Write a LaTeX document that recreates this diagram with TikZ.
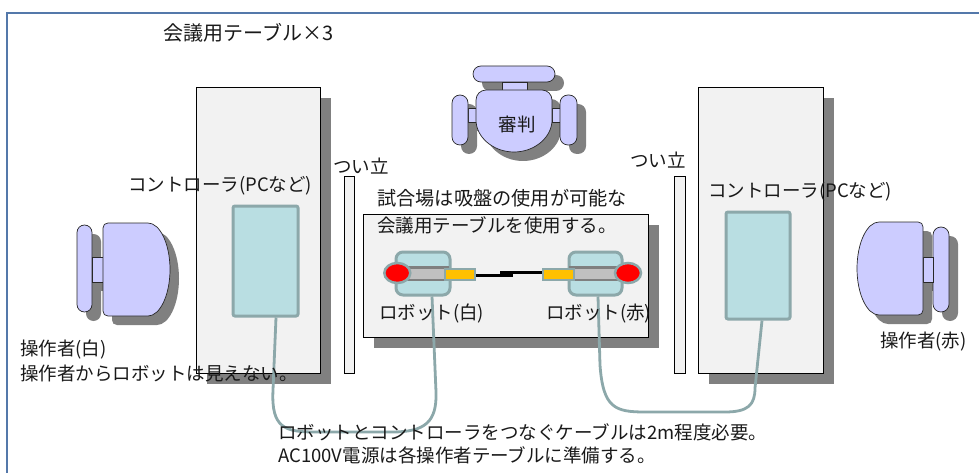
\documentclass[tikz,border=0pt]{standalone}
\usepackage{fontspec}
\setmainfont{Noto Sans CJK JP}
\usetikzlibrary{shadows,shapes.geometric}

\definecolor{framecol}{RGB}{84,120,170}
\definecolor{tablefill}{RGB}{242,242,242}
\definecolor{shadowgray}{RGB}{128,128,128}
\definecolor{ctrlfill}{RGB}{185,222,226}
\definecolor{ctrledge}{RGB}{140,168,170}
\definecolor{personfill}{RGB}{204,204,255}
\definecolor{personedge}{RGB}{40,40,40}
\definecolor{axlefill}{RGB}{192,192,192}
\definecolor{axleedge}{RGB}{127,127,127}
\definecolor{plugfill}{RGB}{255,192,0}
\definecolor{cablecol}{RGB}{140,168,170}

% top view of the referee: chair back, arm rests and seated body
\newcommand\refereeparts[1]{%
  \path[#1,rounded corners=8pt] (473,66) rectangle (555,82);
  \path[#1] (502,82) rectangle (527,90);
  \path[#1] (468,108) rectangle (476,122);
  \path[#1] (552,108) rectangle (560,122);
  \path[#1,rounded corners=8pt] (452,95) rectangle (468,145);
  \path[#1,rounded corners=8pt] (560,95) rectangle (577,145);
  \path[#1] (476,120) -- (476,100) .. controls (476,94.5) and (480.5,90) .. (486,90)
    -- (542,90) .. controls (547.5,90) and (552,94.5) .. (552,100) -- (552,120)
    .. controls (552,137) and (535,152) .. (514,152)
    .. controls (493,152) and (476,137) .. (476,120) -- cycle;
}
% operator facing right
\newcommand\leftopparts[1]{%
  \path[#1,rounded corners=7.5pt] (77,225) rectangle (92,312);
  \path[#1] (92,257) rectangle (103,282);
  \path[#1] (148,223) .. controls (160,223) and (170,244) .. (170,269.5)
    .. controls (170,295) and (160,316) .. (148,316) -- (108,316)
    .. controls (105,316) and (103,314) .. (103,311) -- (103,228)
    .. controls (103,225) and (105,223) .. (108,223) -- cycle;
}
% operator facing left
\newcommand\rightopparts[1]{%
  \path[#1,rounded corners=8pt] (933,227) rectangle (949,312);
  \path[#1] (923,257) rectangle (933,282);
  \path[#1] (879,222) .. controls (867,222) and (857,243) .. (857,268.5)
    .. controls (857,294) and (867,315) .. (879,315) -- (918,315)
    .. controls (921,315) and (923,313) .. (923,310) -- (923,227)
    .. controls (923,224) and (921,222) .. (918,222) -- cycle;
}

\begin{document}
\begin{tikzpicture}[x=1pt,y=-1pt,
  tablebox/.style={draw=black,line width=0.9pt,fill=tablefill,inner sep=0pt,
    drop shadow={shadow xshift=11pt,shadow yshift=-11pt,fill=shadowgray,opacity=1}},
  screenbox/.style={draw=black,line width=0.8pt,fill=tablefill,inner sep=0pt},
  ctrlbox/.style={draw=ctrledge,fill=ctrlfill,line width=3pt,rounded corners=2pt,inner sep=0pt},
  robotbody/.style={draw=ctrledge,fill=ctrlfill,line width=3pt,rounded corners=7pt,inner sep=0pt},
  axlebar/.style={draw=axleedge,fill=axlefill,line width=2.5pt,inner sep=0pt},
  wheel/.style={ellipse,draw=ctrledge,fill=red,line width=2.5pt,inner sep=0pt},
  plug/.style={draw=ctrledge,fill=plugfill,line width=2.5pt,inner sep=0pt},
  wire/.style={draw=black,line width=2.5pt},
  cable/.style={draw=cablecol,line width=2.8pt,line join=round},
  personshadow/.style={fill=shadowgray},
  person/.style={fill=personfill,draw=personedge,line width=0.7pt},
  txt/.style={inner sep=0pt,anchor=west,text=black!90,font=\fontsize{18.5}{20}\selectfont},
]
\useasboundingbox (0,0) rectangle (979,473);

% outer frame
\draw[framecol,line width=1.6pt] (7,473) -- (7,13) -- (979,13);

% tables
\node[tablebox,minimum width=124pt,minimum height=286pt] (ltable) at (258,230) {};
\node[tablebox,minimum width=125pt,minimum height=286pt] (rtable) at (760.5,230) {};
\node[tablebox,minimum width=285pt,minimum height=123pt] (ctable) at (505.5,275.5) {};

% partitions
\node[screenbox,minimum width=10pt,minimum height=197pt] (lscreen) at (349,274.5) {};
\node[screenbox,minimum width=11pt,minimum height=197pt] (rscreen) at (679.5,274.5) {};

% controllers
\node[ctrlbox,minimum width=65pt,minimum height=110pt] (lctrl) at (265.5,261) {};
\node[ctrlbox,minimum width=64pt,minimum height=107pt] (rctrl) at (758,265.5) {};

% people with their shadows
\begin{scope}[shift={(9,9)}]
  \refereeparts{personshadow}
  \leftopparts{personshadow}
  \rightopparts{personshadow}
\end{scope}
\refereeparts{person}
\leftopparts{person}
\rightopparts{person}

% robots
\node[robotbody,minimum width=54pt,minimum height=43pt] (lbot) at (423,273.5) {};
\node[robotbody,minimum width=53pt,minimum height=43pt] (rbot) at (595.5,273.5) {};
\node[axlebar,minimum width=48pt,minimum height=12.5pt] (laxle) at (424,273.7) {};
\node[axlebar,minimum width=50pt,minimum height=12.5pt] (raxle) at (595,273.7) {};
\node[wheel,minimum width=26pt,minimum height=20pt] (lwheel) at (397.3,273) {};
\node[wheel,minimum width=26pt,minimum height=20pt] (rwheel) at (628,273) {};
\node[plug,minimum width=30pt,minimum height=11pt] (lplug) at (460,274.5) {};
\node[plug,minimum width=31pt,minimum height=11pt] (rplug) at (558.5,274.5) {};

% link cable between the robots
\coordinate (ljoin) at (513,275.3);
\coordinate (rjoin) at (500,272.6);
\draw[wire] ([yshift=-0.8pt]lplug.east) -- (ljoin);
\draw[wire] (rjoin) -- ([yshift=1.9pt]rplug.west);

% controller cables
\draw[cable] ([xshift=10.5pt]lctrl.south) -- (273,390)
  .. controls (271,428) and (285,432) .. (315,432) -- (392,432)
  .. controls (425,432) and (437,422) .. (436,392) -- ([xshift=9pt]lbot.south);
\draw[cable] ([xshift=2.5pt]rbot.south) -- (600,365)
  .. controls (603,408) and (615,412) .. (645,412) -- (725,412)
  .. controls (748,412) and (755,405) .. (755,388) -- ([xshift=4pt]rctrl.south);

% labels
\node[txt,font=\fontsize{20}{22}\selectfont] (title) at (163,33) {会議用テーブル×3};
\node[txt,anchor=center] (referee) at (517,124) {審判};
\node[txt] (lscreenlbl) at (333,166) {つい立};
\node[txt] (rscreenlbl) at (630,160) {つい立};
\node[txt] (lctrllbl) at (128,186) {コントローラ(PCなど)};
\node[txt] (rctrllbl) at (708,192) {コントローラ(PCなど)};
\node[txt,font=\fontsize{19.2}{21}\selectfont] (field1) at (377,198) {試合場は吸盤の使用が可能な};
\node[txt] (field2) at (377,225) {会議用テーブルを使用する。};
\node[txt] (lbotlbl) at (379,314) {ロボット(白)};
\node[txt] (rbotlbl) at (546,314) {ロボット(赤)};
\node[txt] (lop1) at (20,350) {操作者(白)};
\node[txt] (lop2) at (20,373) {操作者からロボットは見えない。};
\node[txt] (rop) at (880,342) {操作者(赤)};
\node[txt] (note1) at (278,432) {ロボットとコントローラをつなぐケーブルは2m程度必要。};
\node[txt] (note2) at (278,455) {AC100V電源は各操作者テーブルに準備する。};
\end{tikzpicture}
\end{document}
